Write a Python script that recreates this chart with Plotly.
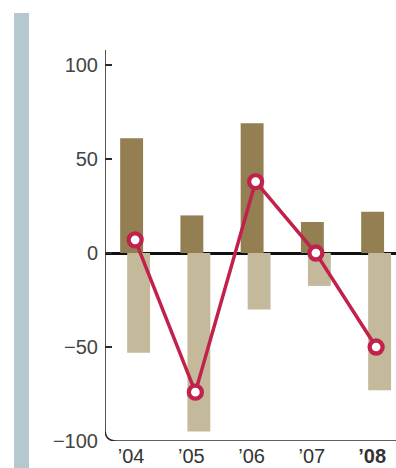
import plotly.graph_objects as go

years = ["’04", "’05", "’06", "’07", "<b>’08</b>"]
pos_vals = [61, 20, 69, 16.5, 22]
neg_vals = [-53, -95, -30, -17.5, -73]
line_vals = [7, -74, 38, 0, -50]
y_ticks = [-100, -50, 0, 50, 100]
y_tick_text = ["−100", "−50", "0", "50", "100"]

idx = list(range(len(years)))
FONT = "Liberation Sans, Arial, sans-serif"
DARK = "#937f51"
LIGHT = "#c5b99c"
RED = "#c0224c"
PAD = "\u2009\u2009"

fig = go.Figure()
fig.add_trace(go.Bar(x=idx, y=pos_vals, width=0.38, offset=-0.248,
                     marker=dict(color=DARK, line=dict(width=0)), hoverinfo="skip"))
fig.add_trace(go.Bar(x=idx, y=neg_vals, width=0.38, offset=-0.132,
                     marker=dict(color=LIGHT, line=dict(width=0)), hoverinfo="skip"))
fig.add_trace(go.Scatter(x=idx, y=line_vals, mode="lines+markers",
                         line=dict(color=RED, width=3.5),
                         marker=dict(size=13, color="white", line=dict(color=RED, width=4.3)),
                         hoverinfo="skip"))

XMIN, XMAX = -0.5, 4.33
YMIN, YMAX = -100, 108
rx, ry = 0.19, 6.0
fig.add_shape(type="path", xref="x", yref="y",
              path=f"M {XMIN},{YMAX} L {XMIN},{YMIN+ry} Q {XMIN},{YMIN} {XMIN+rx},{YMIN} L {XMAX+0.2},{YMIN}",
              line=dict(color="#2b2b2b", width=1.6), layer="above")
# left decorative bar
fig.add_shape(type="rect", xref="paper", yref="paper",
              x0=-0.3127, x1=-0.2612, y0=-0.08, y1=1.0946,
              fillcolor="#b4c8ce", line=dict(width=0), layer="below")

fig.update_layout(
    width=396, height=468,
    margin=dict(l=105, r=0, t=50, b=27, autoexpand=False),
    plot_bgcolor="white", paper_bgcolor="white",
    barmode="overlay", showlegend=False,
    font=dict(family=FONT, size=20, color="#444444"),
    xaxis=dict(range=[XMIN, XMAX], tickmode="array", tickvals=idx,
               ticktext=[t + PAD for t in years], automargin=False,
               showgrid=False, zeroline=False, showline=False, ticks="",
               tickfont=dict(size=20, color="#333333"), ticklabelstandoff=1),
    yaxis=dict(range=[YMIN, YMAX], tickmode="array", tickvals=y_ticks, ticktext=y_tick_text,
               automargin=False,
               showgrid=False, showline=False, ticks="inside", ticklen=7, tickwidth=1.6,
               tickcolor="#2b2b2b", zeroline=True, zerolinecolor="#111111", zerolinewidth=2.5,
               tickfont=dict(size=20, color="#444444"), ticklabelstandoff=6),
)
fig.write_html("out.html")
